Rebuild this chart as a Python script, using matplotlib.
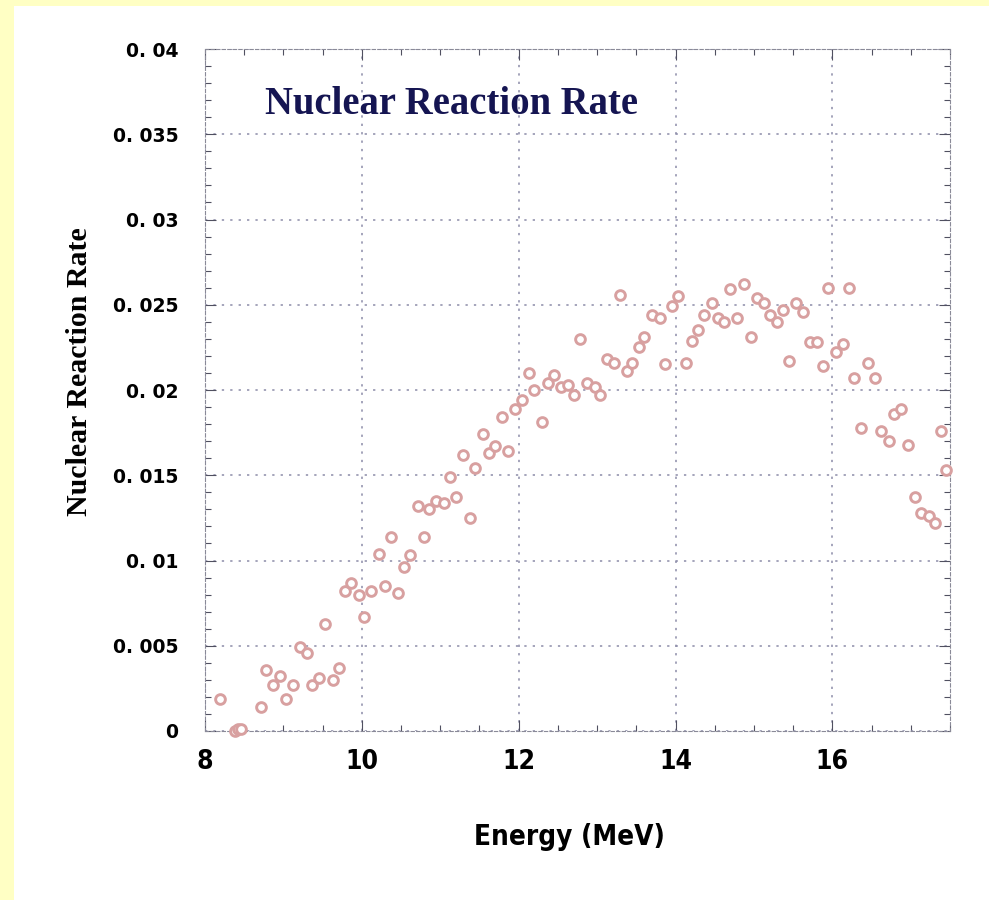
import numpy as np
import matplotlib
matplotlib.use("Agg")
import matplotlib.pyplot as plt
from matplotlib import font_manager
from matplotlib.patches import Rectangle

# measured reaction rate vs. incident energy
energy = [8.19, 8.38, 8.42, 8.46, 8.71, 8.78, 8.87, 8.96, 9.03, 9.12,
          9.21, 9.30, 9.37, 9.46, 9.53, 9.63, 9.71, 9.79, 9.86, 9.96,
          10.03, 10.12, 10.22, 10.29, 10.37, 10.46, 10.54, 10.62, 10.71, 10.79,
          10.86, 10.94, 11.05, 11.12, 11.20, 11.29, 11.38, 11.44, 11.54, 11.62,
          11.70, 11.79, 11.87, 11.95, 12.04, 12.13, 12.20, 12.30, 12.38, 12.45,
          12.54, 12.63, 12.71, 12.78, 12.87, 12.97, 13.04, 13.13, 13.21, 13.29,
          13.38, 13.45, 13.54, 13.60, 13.70, 13.80, 13.87, 13.96, 14.03, 14.13,
          14.21, 14.29, 14.36, 14.46, 14.54, 14.62, 14.69, 14.79, 14.87, 14.96,
          15.04, 15.13, 15.20, 15.29, 15.37, 15.45, 15.54, 15.63, 15.71, 15.80,
          15.88, 15.95, 16.04, 16.13, 16.21, 16.28, 16.37, 16.46, 16.54, 16.62,
          16.72, 16.79, 16.87, 16.96, 17.05, 17.13, 17.23, 17.31, 17.38, 17.45]
rate = [0.0019, 0.0000, 0.0001, 0.0001, 0.0014, 0.0036, 0.0027, 0.0032, 0.0019, 0.0027,
        0.0049, 0.0046, 0.0027, 0.0031, 0.0063, 0.0030, 0.0037, 0.0082, 0.0087, 0.0080,
        0.0067, 0.0082, 0.0104, 0.0085, 0.0114, 0.0081, 0.0096, 0.0103, 0.0132, 0.0114,
        0.0130, 0.0135, 0.0134, 0.0149, 0.0137, 0.0162, 0.0125, 0.0154, 0.0174, 0.0163,
        0.0167, 0.0184, 0.0164, 0.0189, 0.0194, 0.0210, 0.0200, 0.0181, 0.0204, 0.0209,
        0.0202, 0.0203, 0.0197, 0.0230, 0.0204, 0.0202, 0.0197, 0.0218, 0.0216, 0.0256,
        0.0211, 0.0216, 0.0225, 0.0231, 0.0244, 0.0242, 0.0215, 0.0249, 0.0255, 0.0216,
        0.0229, 0.0235, 0.0244, 0.0251, 0.0242, 0.0240, 0.0259, 0.0242, 0.0262, 0.0231,
        0.0254, 0.0251, 0.0244, 0.0240, 0.0247, 0.0217, 0.0251, 0.0246, 0.0228, 0.0228,
        0.0214, 0.0260, 0.0222, 0.0227, 0.0260, 0.0207, 0.0178, 0.0216, 0.0207, 0.0176,
        0.0170, 0.0186, 0.0189, 0.0168, 0.0137, 0.0128, 0.0126, 0.0122, 0.0176, 0.0153]

xticks = [8, 10, 12, 14, 16]
yticks = [0, 0.005, 0.01, 0.015, 0.02, 0.025, 0.03, 0.035, 0.04]
ylabels = ['0', '0. 005', '0. 01', '0. 015', '0. 02', '0. 025', '0. 03', '0. 035', '0. 04']


def narrow_bold(size):
    # look for a condensed/narrow bold sans face, else plain DejaVu bold
    for f in font_manager.fontManager.ttflist:
        low = f.fname.lower()
        if ('narrow' in low or 'condensed' in low) and 'bold' in low and 'oblique' not in low \
                and 'italic' not in low and 'serif' not in low and 'mono' not in low:
            return font_manager.FontProperties(fname=f.fname, size=size)
    return font_manager.FontProperties(family='DejaVu Sans', weight='bold', size=size * 0.85)


serif = 'Liberation Serif'

fig = plt.figure(figsize=(9.89, 9.0), dpi=100)
fig.patch.set_facecolor('#ffffc4')
fig.patches.append(Rectangle((14 / 989, 0), 1, 894 / 900, transform=fig.transFigure,
                             facecolor='white', edgecolor='none', zorder=-5))

ax = fig.add_axes([205 / 989, 169 / 900, 745 / 989, 682 / 900])
ax.set_facecolor('white')

ax.plot(energy, rate, 'o', ms=7, mfc='white', mec='#d8a0a0', mew=2.1,
        linestyle='none', clip_on=False, zorder=3)

ax.set_xlim(8, 17.5)
ax.set_ylim(0, 0.04)
ax.set_xticks(xticks)
ax.set_xticks(np.arange(8, 17.6, 0.5), minor=True)
ax.set_yticks(yticks)
ax.set_yticks(np.arange(0, 0.0401, 0.001), minor=True)
ax.set_yticklabels(ylabels, fontfamily='DejaVu Sans', fontweight='bold', fontsize=13.5)
ax.set_xticklabels([str(v) for v in xticks], fontproperties=narrow_bold(19))

ax.tick_params(which='both', direction='in', top=True, right=True, color='#505060', width=0.8)
ax.tick_params(which='major', length=8)
ax.tick_params(which='minor', length=4)
ax.tick_params(axis='y', which='major', pad=19)
ax.tick_params(axis='x', which='major', pad=13)

for s in ax.spines.values():
    s.set_color('#8a8a98')
    s.set_linewidth(0.8)
    s.set_linestyle((0, (3, 2)))

ax.grid(True, which='major', color='#8c8ca8', linestyle=(0, (1.5, 4)), linewidth=1.1)
ax.set_axisbelow(True)

fig.text(569 / 989, 1 - 837 / 900, 'Energy (MeV)', fontproperties=narrow_bold(20),
         ha='center', va='center')
fig.text(80 / 989, 1 - 372 / 900, 'Nuclear Reaction Rate', fontfamily=serif, fontweight='bold',
         fontsize=21.5, rotation=90, ha='center', va='center')
fig.text(265 / 989, 1 - 104 / 900, 'Nuclear Reaction Rate', fontfamily=serif, fontweight='bold',
         fontsize=27.8, color='#151552', ha='left', va='center')

fig.savefig('out.png', dpi=100, facecolor=fig.get_facecolor())
